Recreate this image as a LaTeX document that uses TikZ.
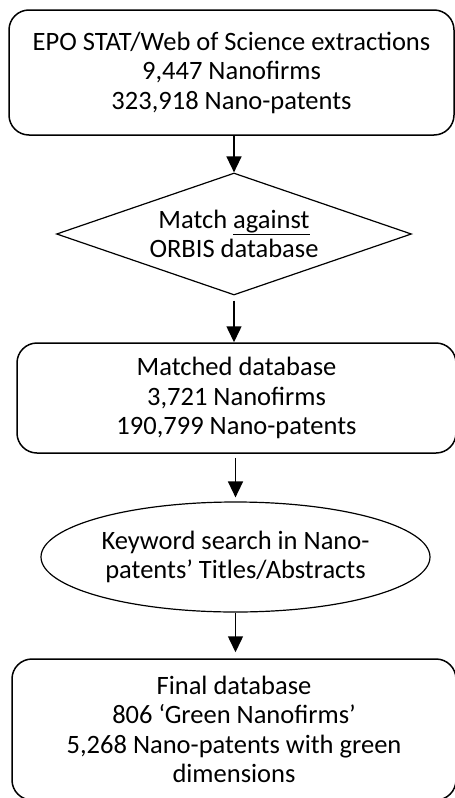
\documentclass[tikz,border=0pt]{standalone}
\usepackage{fontspec}
\setmainfont{Carlito}
\usetikzlibrary{shapes.geometric,arrows.meta}

\begin{document}
\begin{tikzpicture}[x=1pt, y=-1pt, line width=1.5pt,
    font=\fontsize{26.5}{29.5}\selectfont]
        \tikzset{
          blk/.style ={draw, rectangle, rounded corners=20pt, align=center, inner sep=0pt},
          dec/.style ={draw, diamond, shape aspect=2.9, line width=1.2pt, align=center, inner sep=0pt},
          srch/.style={draw, ellipse, line width=1.2pt, align=center, inner sep=0pt},
          flow/.style={-{Triangle[length=16pt,width=15pt]}}
        }
        \useasboundingbox (0,0) rectangle (455,798);
        %% --- stages ---
        \node[blk, minimum width=445pt, minimum height=125pt] (extr) at (231.5,72.5)
             {EPO STAT/Web of Science extractions\\9,447 Nanofirms\\323,918 Nano-patents};
        \node[dec, minimum width=355pt, minimum height=122pt] (match) at (234,234)
             {Match \underline{against}\\ORBIS database};
        \node[blk, minimum width=439pt, minimum height=110pt] (matched) at (236.5,398)
             {Matched database\\3,721 Nanofirms\\190,799 Nano-patents};
        \node[srch, minimum width=389pt, minimum height=110pt] (kw) at (235.5,557)
             {Keyword search in Nano-\\patents’ Titles/Abstracts};
        \node[blk, minimum width=444pt, minimum height=141pt] (final) at (234,729.5)
             {Final database\\806 ‘Green Nanofirms’\\5,268 Nano-patents with green\\dimensions};
        %% --- arrows ---
        \draw[flow] (match.north |- extr.south) -- (match.north);
        \draw[flow, shorten <=5pt] (match.south) -- (match.south |- matched.north);
        \draw[flow, shorten <=4pt, shorten >=4pt] (kw.north |- matched.south) -- (kw.north);
        \draw[flow, shorten >=6pt] (kw.south) -- (kw.south |- final.north);
    \end{tikzpicture}
\end{document}
